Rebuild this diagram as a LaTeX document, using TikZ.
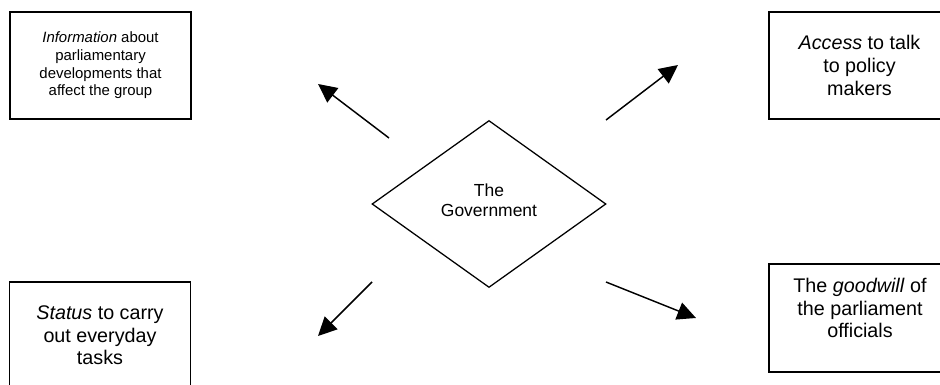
\documentclass[tikz,border=0pt]{standalone}
\usepackage{fontspec}
\setmainfont{Liberation Sans}
\usetikzlibrary{shapes.geometric,arrows.meta}

\tikzset{
  framebox/.style={draw=black, line width=1.1pt, rectangle, inner sep=0pt,
    minimum width=135.75pt, minimum height=80.25pt, align=center},
  bigtext/.style={font=\fontsize{14.8}{17}\selectfont},
  smalltext/.style={font=\fontsize{11.2}{13.2}\selectfont},
  govshape/.style={draw=black, line width=0.95pt, diamond, inner sep=0pt,
    minimum width=175.5pt, minimum height=125.25pt},
  govtext/.style={align=center, font=\fontsize{13.1}{15}\selectfont},
  flow/.style={draw=black, line width=1.1pt,
    -{Triangle[length=14pt,width=13.5pt]}}
}

\begin{document}
\begin{tikzpicture}[x=0.75pt,y=-0.75pt]
  \useasboundingbox (0,0) rectangle (940,385);
  \clip (0,0) rectangle (940,385);

  % the four boxes round the centre
  \node[framebox, smalltext] (info) at (100.5,65.5)
    {\textit{Information} about\\parliamentary\\developments that\\affect the group};
  \node[framebox, bigtext] (access) at (859.5,65.5)
    {\textit{Access} to talk\\to policy\\makers};
  \node[framebox, bigtext] (status) at (100,335.5)
    {\textit{Status} to carry\\out everyday\\tasks};
  \node[framebox, minimum height=81pt] (goodwillbox) at (859.5,318) {};
  \node[bigtext, align=center] (goodwill) at (860,308)
    {The \textit{goodwill} of\\the parliament\\officials};

  % central diamond
  \node[govshape] (gov) at (489,204) {};
  \node[govtext] (govlabel) at (489,200) {The\\Government};

  % arrow ends
  \coordinate (infoFrom) at (389,138);
  \coordinate (infoTo) at (318,84);
  \coordinate (accessFrom) at (606,120);
  \coordinate (accessTo) at (678,65);
  \coordinate (statusFrom) at (372,282);
  \coordinate (statusTo) at (318,336);
  \coordinate (goodwillFrom) at (606,282);
  \coordinate (goodwillTo) at (696,318);

  \draw[flow] (infoFrom) -- (infoTo);
  \draw[flow] (accessFrom) -- (accessTo);
  \draw[flow] (statusFrom) -- (statusTo);
  \draw[flow] (goodwillFrom) -- (goodwillTo);
\end{tikzpicture}
\end{document}
